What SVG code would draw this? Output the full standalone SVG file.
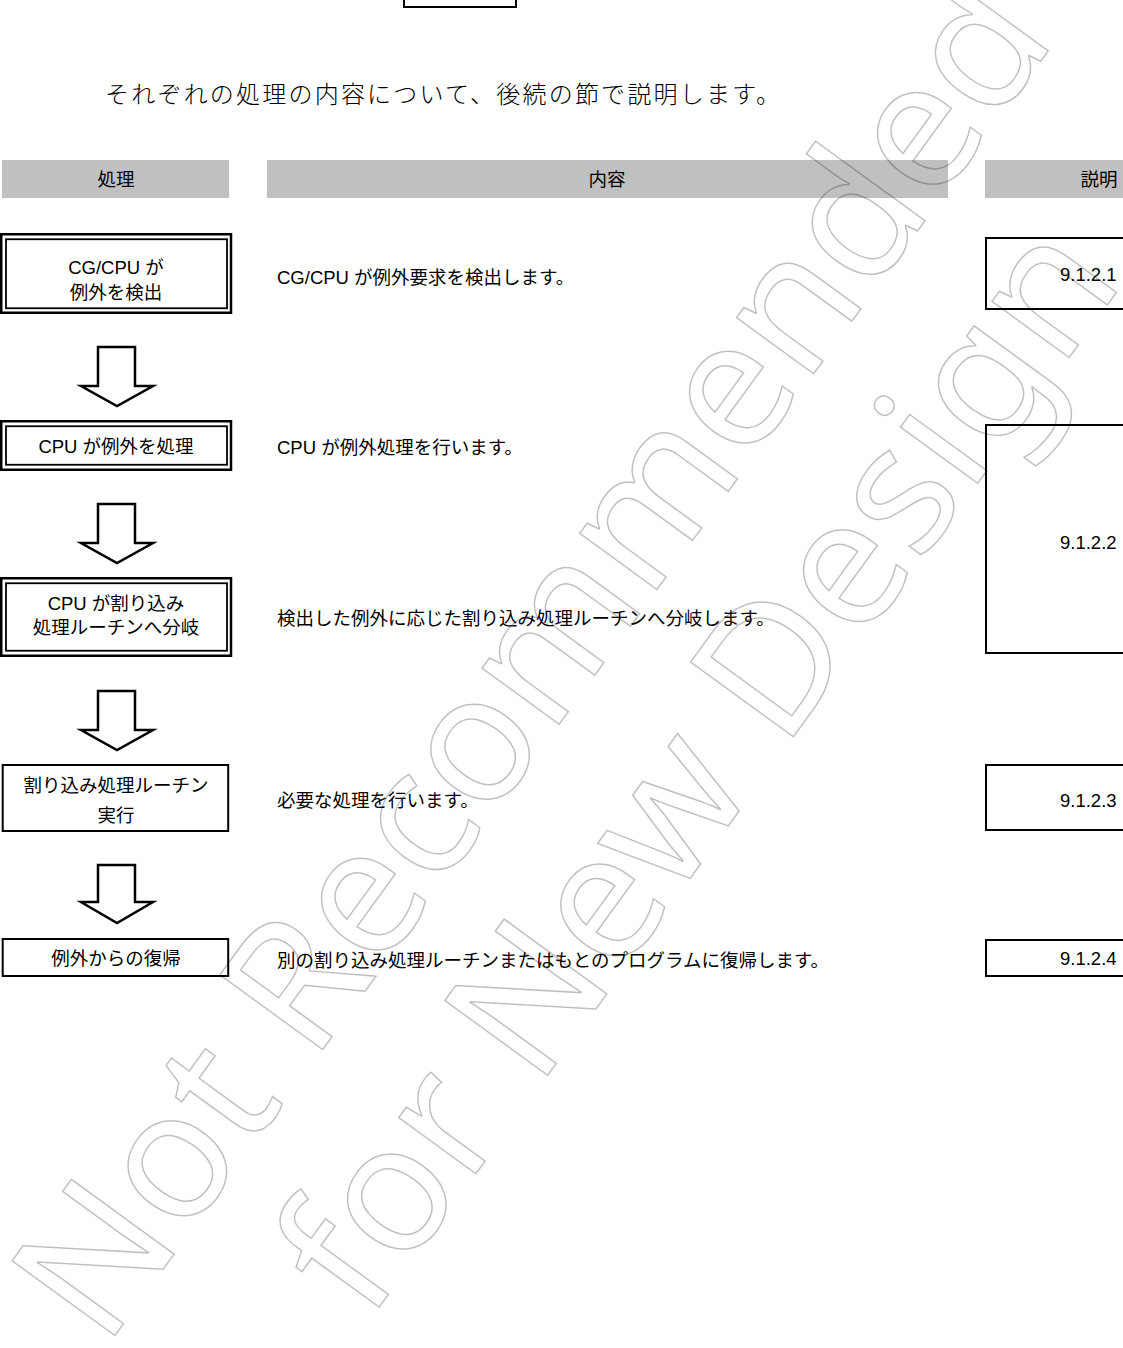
<svg xmlns="http://www.w3.org/2000/svg" width="1123" height="1348" viewBox="0 0 1123 1348">
<style>
.t{font-family:"Liberation Sans","Noto Sans CJK JP",sans-serif;font-size:18.5px;fill:#000;dominant-baseline:central}
.c{text-anchor:middle}
.box{fill:#fff;stroke:#000}
.bar{fill:#c0c0c0}
.arw{fill:#fff;stroke:#000;stroke-width:2.5;stroke-linejoin:miter}
.wm{font-family:"Noto Sans","Open Sans",sans-serif;font-size:178px;fill:none;stroke:#000;stroke-opacity:0.25;stroke-width:1.5;text-anchor:middle}
</style>
<rect width="1123" height="1348" fill="#fff"/>
<rect x="404" y="-10" width="112" height="17" fill="#fff" stroke="#000" stroke-width="2"/>
<text x="105" y="92" font-family="Noto Sans CJK JP,sans-serif" font-weight="300" font-size="24" fill="#000" dominant-baseline="central" textLength="675" lengthAdjust="spacing">それぞれの処理の内容について、後続の節で説明します。</text>

<g id="headers">
<rect class="bar" x="2" y="160" width="227" height="38"/>
<text class="t c" x="116" y="179">処理</text>
<rect class="bar" x="267" y="160" width="681" height="38"/>
<text class="t c" x="607" y="179">内容</text>
<rect class="bar" x="985" y="160" width="227" height="38"/>
<text class="t c" x="1099" y="179">説明</text>
</g>

<g id="node1">
<rect class="box" x="1.25" y="234.25" width="229.75" height="78.5" stroke-width="2.5"/>
<rect class="box" x="6" y="239.25" width="221" height="69" stroke-width="1.8"/>
<text class="t c" x="116" y="267">CG/CPU が</text>
<text class="t c" x="116" y="292">例外を検出</text>
</g>
<g id="node2">
<rect class="box" x="1.25" y="421.25" width="229.75" height="48.5" stroke-width="2.5"/>
<rect class="box" x="6" y="426.25" width="221" height="38.5" stroke-width="1.8"/>
<text class="t c" x="116" y="446">CPU が例外を処理</text>
</g>
<g id="node3">
<rect class="box" x="1.25" y="578.25" width="229.75" height="77.5" stroke-width="2.5"/>
<rect class="box" x="6" y="583.25" width="221" height="67.5" stroke-width="1.8"/>
<text class="t c" x="116" y="603">CPU が割り込み</text>
<text class="t c" x="116" y="627">処理ルーチンへ分岐</text>
</g>
<g id="node4">
<rect class="box" x="2.7" y="765" width="225.5" height="66" stroke-width="2"/>
<text class="t c" x="116" y="785">割り込み処理ルーチン</text>
<text class="t c" x="116" y="815">実行</text>
</g>
<g id="node5">
<rect class="box" x="2.7" y="939" width="225.5" height="37" stroke-width="2"/>
<text class="t c" x="116" y="958">例外からの復帰</text>
</g>

<g id="descriptions">
<text class="t" x="277" y="277">CG/CPU が例外要求を検出します。</text>
<text class="t" x="277" y="447">CPU が例外処理を行います。</text>
<text class="t" x="277" y="618">検出した例外に応じた割り込み処理ルーチンへ分岐します。</text>
<text class="t" x="277" y="800">必要な処理を行います。</text>
<text class="t" x="277" y="960">別の割り込み処理ルーチンまたはもとのプログラムに復帰します。</text>
</g>

<g id="ref1">
<rect class="box" x="986" y="238" width="240" height="71" stroke-width="2"/>
<text class="t" x="1060" y="274">9.1.2.1</text>
</g>
<g id="ref2">
<rect class="box" x="986" y="425" width="240" height="228" stroke-width="2"/>
<text class="t" x="1060" y="542">9.1.2.2</text>
</g>
<g id="ref3">
<rect class="box" x="986" y="765" width="240" height="65" stroke-width="2"/>
<text class="t" x="1060" y="800">9.1.2.3</text>
</g>
<g id="ref4">
<rect class="box" x="986" y="940" width="240" height="36" stroke-width="2"/>
<text class="t" x="1060" y="958">9.1.2.4</text>
</g>

<g id="connectors">
<path class="arw" d="M98,347 V386 H81 L117,406 L153,386 H135 V347 Z"/>
<path class="arw" d="M98,504 V543 H81 L117,563 L153,543 H135 V504 Z"/>
<path class="arw" d="M98,691 V730 H81 L117,750 L153,730 H135 V691 Z"/>
<path class="arw" d="M98,865 V902 H81 L117,923 L153,902 H135 V865 Z"/>
</g>

<g id="watermark" transform="translate(581,694) rotate(-54)">
<text class="wm" x="0" y="0">Not Recommended</text>
<text class="wm" x="10" y="197">for New Design</text>
</g>
</svg>
